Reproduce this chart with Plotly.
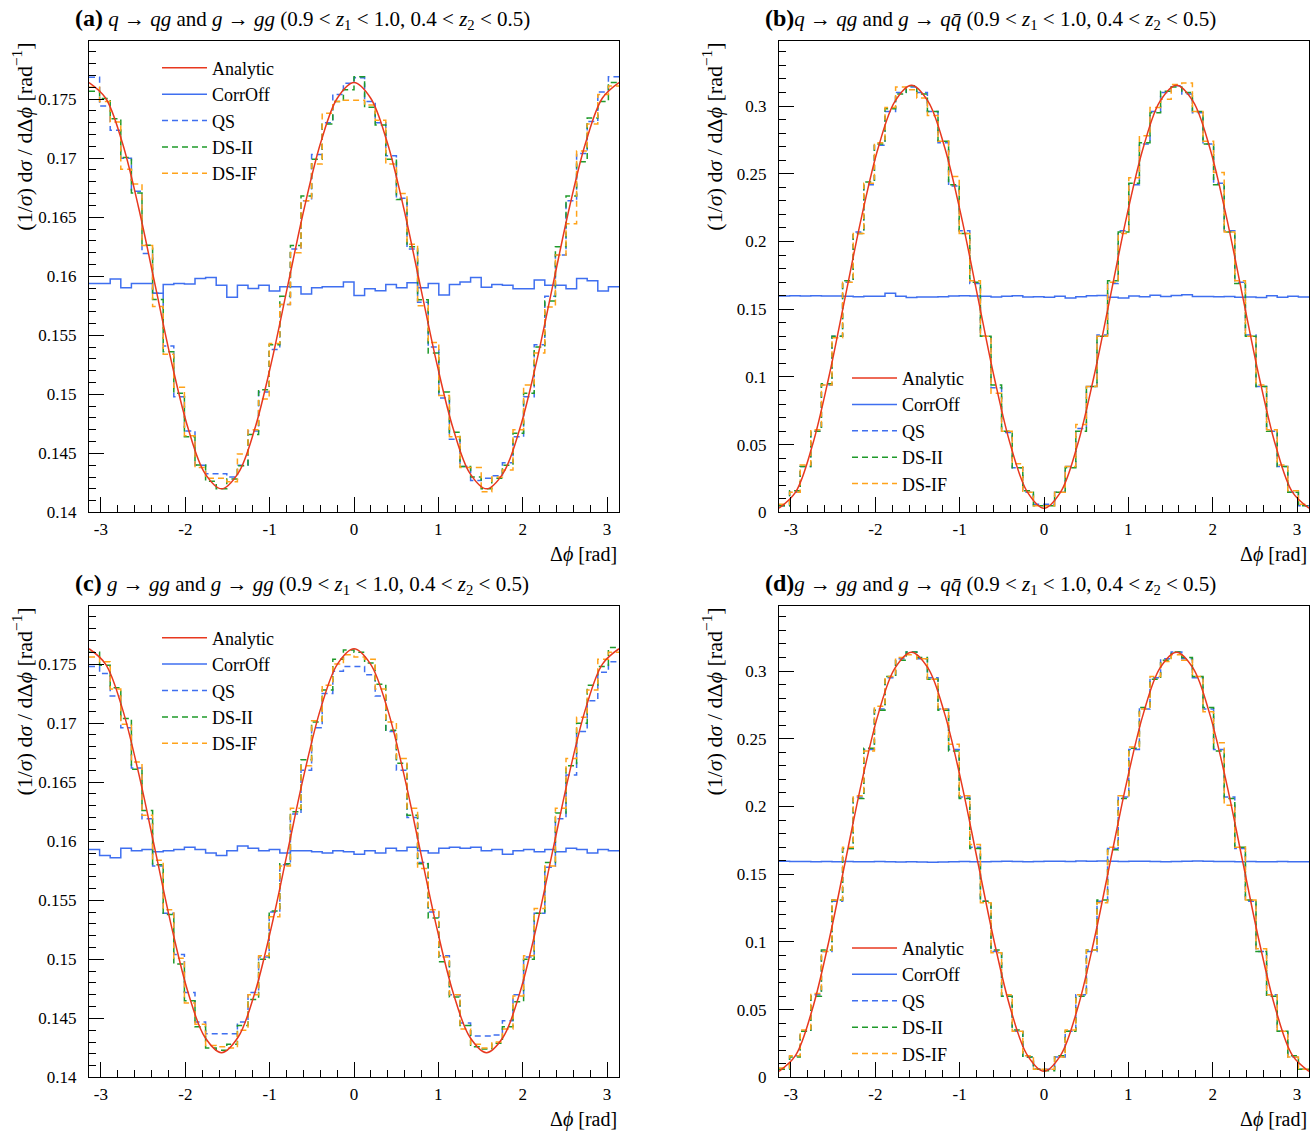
import numpy as np
import plotly.graph_objects as go

W, H = 1314, 1136
FONT = "Liberation Serif"

# ---------------- data ----------------
N_BINS = 50
phi_edges = np.linspace(-np.pi, np.pi, N_BINS + 1)      # histogram bin edges
phi_curve = np.linspace(-np.pi, np.pi, 33)              # analytic sample positions (k*pi/16)

# Panel (a): q -> qg and g -> gg
analytic_a = [0.17640, 0.17509, 0.17136, 0.16578, 0.15920, 0.15262, 0.14704, 0.14331, 0.14200,
              0.14331, 0.14704, 0.15262, 0.15920, 0.16578, 0.17136, 0.17509, 0.17640,
              0.17509, 0.17136, 0.16578, 0.15920, 0.15262, 0.14704, 0.14331, 0.14200,
              0.14331, 0.14704, 0.15262, 0.15920, 0.16578, 0.17136, 0.17509, 0.17640]
corroff_a = [0.15939, 0.15939, 0.15976, 0.15903, 0.15939, 0.15939, 0.15855, 0.15931, 0.15939, 0.15934,
             0.15981, 0.15990, 0.15923, 0.15822, 0.15923, 0.15897, 0.15923, 0.15875, 0.15911, 0.15911,
             0.15850, 0.15903, 0.15911, 0.15911, 0.15951, 0.15838, 0.15895, 0.15878, 0.15931, 0.15903,
             0.15945, 0.15903, 0.15939, 0.15841, 0.15931, 0.15951, 0.15990, 0.15906, 0.15931, 0.15923,
             0.15895, 0.15895, 0.15968, 0.15923, 0.15923, 0.15895, 0.15981, 0.15962, 0.15875, 0.15911]
qs_a = [0.17685, 0.17441, 0.17236, 0.17000, 0.16720, 0.16192, 0.15855, 0.15410, 0.14980, 0.14690,
        0.14400, 0.14328, 0.14328, 0.14300, 0.14400, 0.14690, 0.15020, 0.15380, 0.15760, 0.16230,
        0.16640, 0.17030, 0.17300, 0.17540, 0.17635, 0.17680, 0.17480, 0.17300, 0.17020, 0.16660,
        0.16230, 0.15780, 0.15400, 0.14970, 0.14620, 0.14390, 0.14270, 0.14290, 0.14310, 0.14420,
        0.14640, 0.14980, 0.15420, 0.15830, 0.16180, 0.16640, 0.17040, 0.17310, 0.17560, 0.17690]
dsii_a = [0.17567, 0.17505, 0.17334, 0.17006, 0.16705, 0.16262, 0.15804, 0.15360, 0.15010, 0.14640,
          0.14402, 0.14264, 0.14200, 0.14284, 0.14396, 0.14660, 0.15040, 0.15420, 0.15830, 0.16260,
          0.16680, 0.16990, 0.17290, 0.17480, 0.17580, 0.17690, 0.17430, 0.17280, 0.16990, 0.16650,
          0.16250, 0.15800, 0.15350, 0.15020, 0.14680, 0.14390, 0.14300, 0.14200, 0.14290, 0.14400,
          0.14670, 0.15010, 0.15400, 0.15790, 0.16250, 0.16680, 0.16970, 0.17340, 0.17480, 0.17640]
dsif_a = [0.17600, 0.17480, 0.17306, 0.16907, 0.16781, 0.16260, 0.15743, 0.15340, 0.15060, 0.14650,
          0.14380, 0.14289, 0.14289, 0.14260, 0.14494, 0.14700, 0.14960, 0.15430, 0.15760, 0.16200,
          0.16640, 0.16950, 0.17380, 0.17480, 0.17490, 0.17490, 0.17450, 0.17320, 0.16950, 0.16700,
          0.16270, 0.15750, 0.15440, 0.14990, 0.14640, 0.14380, 0.14380, 0.14175, 0.14300, 0.14360,
          0.14700, 0.15080, 0.15350, 0.15740, 0.16180, 0.16444, 0.17060, 0.17290, 0.17540, 0.17610]

# Panel (b): q -> qg and g -> q qbar
analytic_b = [0.00310, 0.01498, 0.04882, 0.09946, 0.15920, 0.21894, 0.26958, 0.30342, 0.31530,
              0.30342, 0.26958, 0.21894, 0.15920, 0.09946, 0.04882, 0.01498, 0.00310,
              0.01498, 0.04882, 0.09946, 0.15920, 0.21894, 0.26958, 0.30342, 0.31530,
              0.30342, 0.26958, 0.21894, 0.15920, 0.09946, 0.04882, 0.01498, 0.00310]
corroff_b = [0.1598, 0.1600, 0.1598, 0.1600, 0.1598, 0.1598, 0.1596, 0.1592, 0.1596, 0.1596,
             0.1618, 0.1596, 0.1586, 0.1590, 0.1590, 0.1592, 0.1598, 0.1600, 0.1598, 0.1596,
             0.1590, 0.1596, 0.1600, 0.1590, 0.1592, 0.1588, 0.1596, 0.1584, 0.1592, 0.1600,
             0.1602, 0.1588, 0.1584, 0.1598, 0.1592, 0.1604, 0.1594, 0.1602, 0.1608, 0.1594,
             0.1594, 0.1592, 0.1594, 0.1588, 0.1590, 0.1586, 0.1600, 0.1588, 0.1596, 0.1590]
qs_b = [0.0050, 0.0150, 0.0340, 0.0600, 0.0940, 0.1300, 0.1700, 0.2070, 0.2420, 0.2710,
        0.2960, 0.3100, 0.3140, 0.3100, 0.2960, 0.2730, 0.2410, 0.2080, 0.1690, 0.1300,
        0.0920, 0.0590, 0.0330, 0.0150, 0.0060, 0.0060, 0.0150, 0.0340, 0.0620, 0.0930,
        0.1310, 0.1690, 0.2080, 0.2420, 0.2720, 0.2960, 0.3100, 0.3150, 0.3090, 0.2950,
        0.2720, 0.2430, 0.2080, 0.1700, 0.1310, 0.0930, 0.0600, 0.0340, 0.0150, 0.0050]
dsii_b = [0.0050, 0.0160, 0.0340, 0.0600, 0.0950, 0.1300, 0.1710, 0.2060, 0.2440, 0.2720,
          0.2980, 0.3090, 0.3150, 0.3090, 0.2960, 0.2740, 0.2420, 0.2060, 0.1700, 0.1300,
          0.0940, 0.0600, 0.0330, 0.0160, 0.0050, 0.0050, 0.0150, 0.0330, 0.0600, 0.0930,
          0.1300, 0.1710, 0.2070, 0.2430, 0.2730, 0.2950, 0.3110, 0.3140, 0.3100, 0.2960,
          0.2720, 0.2420, 0.2070, 0.1690, 0.1300, 0.0930, 0.0600, 0.0340, 0.0150, 0.0050]
dsif_b = [0.0060, 0.0150, 0.0350, 0.0610, 0.0940, 0.1290, 0.1700, 0.2060, 0.2430, 0.2730,
          0.2990, 0.3140, 0.3120, 0.3060, 0.2930, 0.2740, 0.2480, 0.2060, 0.1710, 0.1300,
          0.0880, 0.0600, 0.0360, 0.0150, 0.0050, 0.0050, 0.0150, 0.0340, 0.0650, 0.0930,
          0.1300, 0.1700, 0.2060, 0.2470, 0.2780, 0.2990, 0.3050, 0.3160, 0.3170, 0.2960,
          0.2740, 0.2510, 0.2070, 0.1710, 0.1300, 0.0940, 0.0610, 0.0350, 0.0160, 0.0060]

# Panel (c): g -> gg and g -> gg
analytic_c = [0.17630, 0.17500, 0.17129, 0.16574, 0.15920, 0.15266, 0.14711, 0.14340, 0.14210,
              0.14340, 0.14711, 0.15266, 0.15920, 0.16574, 0.17129, 0.17500, 0.17630,
              0.17500, 0.17129, 0.16574, 0.15920, 0.15266, 0.14711, 0.14340, 0.14210,
              0.14340, 0.14711, 0.15266, 0.15920, 0.16574, 0.17129, 0.17500, 0.17630]
corroff_c = [0.15930, 0.15880, 0.15860, 0.15940, 0.15920, 0.15930, 0.15910, 0.15920, 0.15930, 0.15950,
             0.15930, 0.15900, 0.15880, 0.15920, 0.15960, 0.15940, 0.15920, 0.15930, 0.15900, 0.15920,
             0.15920, 0.15910, 0.15900, 0.15920, 0.15910, 0.15890, 0.15920, 0.15900, 0.15940, 0.15920,
             0.15950, 0.15920, 0.15900, 0.15940, 0.15950, 0.15940, 0.15950, 0.15920, 0.15930, 0.15890,
             0.15920, 0.15930, 0.15910, 0.15930, 0.15910, 0.15940, 0.15930, 0.15900, 0.15930, 0.15920]
qs_c = [0.17480, 0.17420, 0.17230, 0.16960, 0.16620, 0.16190, 0.15790, 0.15390, 0.15040, 0.14720,
        0.14470, 0.14370, 0.14370, 0.14370, 0.14470, 0.14720, 0.15020, 0.15400, 0.15800, 0.16230,
        0.16600, 0.16960, 0.17250, 0.17440, 0.17480, 0.17480, 0.17410, 0.17230, 0.16930, 0.16600,
        0.16200, 0.15820, 0.15400, 0.15030, 0.14700, 0.14460, 0.14350, 0.14350, 0.14360, 0.14480,
        0.14700, 0.15020, 0.15390, 0.15780, 0.16190, 0.16560, 0.16930, 0.17190, 0.17430, 0.17520]
dsii_c = [0.17600, 0.17490, 0.17300, 0.17040, 0.16610, 0.16260, 0.15800, 0.15380, 0.14960, 0.14650,
          0.14430, 0.14250, 0.14230, 0.14280, 0.14440, 0.14660, 0.15000, 0.15410, 0.15810, 0.16250,
          0.16690, 0.17010, 0.17280, 0.17540, 0.17620, 0.17600, 0.17510, 0.17330, 0.16940, 0.16660,
          0.16220, 0.15810, 0.15350, 0.14980, 0.14680, 0.14440, 0.14260, 0.14240, 0.14290, 0.14430,
          0.14640, 0.15000, 0.15390, 0.15820, 0.16240, 0.16640, 0.17000, 0.17320, 0.17480, 0.17640]
dsif_c = [0.17560, 0.17520, 0.17290, 0.16990, 0.16670, 0.16220, 0.15840, 0.15420, 0.15010, 0.14630,
          0.14450, 0.14270, 0.14260, 0.14250, 0.14400, 0.14700, 0.15030, 0.15360, 0.15790, 0.16280,
          0.16640, 0.17020, 0.17320, 0.17500, 0.17580, 0.17560, 0.17540, 0.17290, 0.17010, 0.16700,
          0.16280, 0.15770, 0.15420, 0.15020, 0.14700, 0.14410, 0.14280, 0.14250, 0.14300, 0.14410,
          0.14690, 0.15030, 0.15430, 0.15790, 0.16280, 0.16700, 0.17050, 0.17280, 0.17540, 0.17600]

# Panel (d): g -> gg and g -> q qbar
analytic_d = [0.00450, 0.01627, 0.04981, 0.10000, 0.15920, 0.21840, 0.26859, 0.30213, 0.31390,
              0.30213, 0.26859, 0.21840, 0.15920, 0.10000, 0.04981, 0.01627, 0.00450,
              0.01627, 0.04981, 0.10000, 0.15920, 0.21840, 0.26859, 0.30213, 0.31390,
              0.30213, 0.26859, 0.21840, 0.15920, 0.10000, 0.04981, 0.01627, 0.00450]
corroff_d = [0.1596, 0.1594, 0.1594, 0.1592, 0.1594, 0.1592, 0.1594, 0.1592, 0.1592, 0.1594,
             0.1592, 0.1590, 0.1592, 0.1590, 0.1588, 0.1590, 0.1592, 0.1594, 0.1592, 0.1592,
             0.1594, 0.1596, 0.1594, 0.1592, 0.1594, 0.1596, 0.1596, 0.1594, 0.1598, 0.1596,
             0.1598, 0.1596, 0.1594, 0.1596, 0.1596, 0.1594, 0.1592, 0.1594, 0.1596, 0.1598,
             0.1596, 0.1594, 0.1594, 0.1592, 0.1594, 0.1592, 0.1592, 0.1594, 0.1592, 0.1592]
qs_d = [0.0060, 0.0160, 0.0340, 0.0610, 0.0930, 0.1300, 0.1690, 0.2070, 0.2420, 0.2720,
        0.2950, 0.3090, 0.3140, 0.3090, 0.2950, 0.2720, 0.2420, 0.2070, 0.1700, 0.1300,
        0.0930, 0.0600, 0.0340, 0.0150, 0.0060, 0.0060, 0.0150, 0.0340, 0.0610, 0.0930,
        0.1300, 0.1690, 0.2070, 0.2420, 0.2720, 0.2950, 0.3090, 0.3140, 0.3090, 0.2950,
        0.2720, 0.2420, 0.2070, 0.1690, 0.1300, 0.0930, 0.0610, 0.0340, 0.0150, 0.0060]
dsii_d = [0.0060, 0.0150, 0.0340, 0.0600, 0.0940, 0.1310, 0.1690, 0.2060, 0.2430, 0.2710,
          0.2960, 0.3080, 0.3140, 0.3100, 0.2940, 0.2710, 0.2410, 0.2060, 0.1690, 0.1300,
          0.0940, 0.0600, 0.0350, 0.0150, 0.0060, 0.0050, 0.0160, 0.0340, 0.0600, 0.0940,
          0.1310, 0.1680, 0.2060, 0.2430, 0.2730, 0.2940, 0.3080, 0.3140, 0.3100, 0.2960,
          0.2730, 0.2410, 0.2060, 0.1700, 0.1310, 0.0930, 0.0600, 0.0340, 0.0160, 0.0060]
dsif_d = [0.0070, 0.0160, 0.0350, 0.0620, 0.0930, 0.1310, 0.1700, 0.2080, 0.2410, 0.2740,
          0.2960, 0.3100, 0.3120, 0.3090, 0.2940, 0.2720, 0.2460, 0.2080, 0.1720, 0.1290,
          0.0920, 0.0610, 0.0340, 0.0160, 0.0060, 0.0060, 0.0150, 0.0350, 0.0610, 0.0940,
          0.1290, 0.1700, 0.2080, 0.2440, 0.2720, 0.2960, 0.3070, 0.3120, 0.3080, 0.2960,
          0.2700, 0.2470, 0.2010, 0.1700, 0.1310, 0.0950, 0.0610, 0.0340, 0.0150, 0.0060]

x_tickvals = [-3, -2, -1, 0, 1, 2, 3]
x_ticktext = ["-3", "-2", "-1", "0", "1", "2", "3"]

_cond = " (0.9 &lt; <i>z</i><sub>1</sub> &lt; 1.0, 0.4 &lt; <i>z</i><sub>2</sub> &lt; 0.5)"
titles = [
    "<span style='font-size:24px'><b>(a)</b></span> <i>q</i> → <i>qg</i> and <i>g</i> → <i>gg</i>" + _cond,
    "<span style='font-size:24px'><b>(b)</b></span><i>q</i> → <i>qg</i> and <i>g</i> → <i>q</i><i>q̄</i>" + _cond,
    "<span style='font-size:24px'><b>(c)</b></span> <i>g</i> → <i>gg</i> and <i>g</i> → <i>gg</i>" + _cond,
    "<span style='font-size:24px'><b>(d)</b></span><i>g</i> → <i>gg</i> and <i>g</i> → <i>q</i><i>q̄</i>" + _cond,
]
series_names = ["Analytic", "CorrOff", "QS", "DS-II", "DS-IF"]

# ---------------- styling / layout ----------------
RED, BLUE, GREEN, ORANGE = "#e8381f", "#3f6ff0", "#1f9a2a", "#ffa31a"
DASH = "6px,4px"

panels = [
    dict(analytic=analytic_a, hists=[corroff_a, qs_a, dsii_a, dsif_a], left=89, right=619, top=41, bottom=517,
         yrange=[0.14, 0.17995], dtick=0.005, minor=0.001, legend=(157, 50)),
    dict(analytic=analytic_b, hists=[corroff_b, qs_b, dsii_b, dsif_b], left=779, right=1309, top=41, bottom=517,
         yrange=[0.0, 0.3483], dtick=0.05, minor=0.01, legend=(847, 363)),
    dict(analytic=analytic_c, hists=[corroff_c, qs_c, dsii_c, dsif_c], left=89, right=619, top=611, bottom=1087,
         yrange=[0.14, 0.17995], dtick=0.005, minor=0.001, legend=(157, 625)),
    dict(analytic=analytic_d, hists=[corroff_d, qs_d, dsii_d, dsif_d], left=779, right=1309, top=611, bottom=1087,
         yrange=[0.0, 0.3483], dtick=0.05, minor=0.01, legend=(847, 938)),
]


def pxx(x):
    return x / W


def pyy(y):
    return 1 - y / H


fig = go.Figure()
layout = dict(
    width=W, height=H, margin=dict(l=0, r=0, t=0, b=0),
    paper_bgcolor="white", plot_bgcolor="white",
    font=dict(family=FONT, color="black", size=17),
    annotations=[], showlegend=True,
)

hist_styles = [
    dict(color=BLUE, dash="solid"),
    dict(color=BLUE, dash=DASH),
    dict(color=GREEN, dash=DASH),
    dict(color=ORANGE, dash=DASH),
]

for i, p in enumerate(panels):
    n = "" if i == 0 else str(i + 1)
    xa, ya = "x" + n, "y" + n
    leg = "legend" + n
    for j, (vals, st) in enumerate(zip(p["hists"], hist_styles)):
        fig.add_trace(go.Scatter(
            x=phi_edges, y=list(vals) + [vals[-1]], mode="lines",
            line=dict(shape="hv", color=st["color"], dash=st["dash"], width=1.5),
            name=series_names[j + 1], legendrank=j + 2, xaxis=xa, yaxis=ya, legend=leg,
            hoverinfo="skip"))
    fig.add_trace(go.Scatter(
        x=phi_curve, y=p["analytic"], mode="lines",
        line=dict(shape="spline", smoothing=1.0, color=RED, width=1.5),
        name=series_names[0], legendrank=1, xaxis=xa, yaxis=ya, legend=leg, hoverinfo="skip"))

    common = dict(showline=True, mirror=True, linecolor="black", linewidth=1, showgrid=False,
                  zeroline=False, ticks="inside", tickcolor="black", tickwidth=1, ticklen=15,
                  tickfont=dict(family=FONT, size=17, color="black"))
    layout["xaxis" + n] = dict(
        common, domain=[pxx(p["left"]), pxx(p["right"])], anchor=ya, range=[-np.pi, np.pi],
        tickvals=x_tickvals, ticktext=x_ticktext, ticklabelstandoff=1,
        minor=dict(dtick=0.2, tick0=0, ticks="inside", ticklen=7, tickcolor="black", tickwidth=1))
    layout["yaxis" + n] = dict(
        common, domain=[pyy(p["bottom"]), pyy(p["top"])], anchor=xa, range=p["yrange"],
        dtick=p["dtick"], tick0=0, ticklabelstandoff=8,
        minor=dict(dtick=p["minor"], tick0=0, ticks="inside", ticklen=7, tickcolor="black", tickwidth=1))
    lx, ly = p["legend"]
    layout[leg] = dict(x=pxx(lx), y=pyy(ly), xanchor="left", yanchor="top", bgcolor="rgba(0,0,0,0)",
                       borderwidth=0, font=dict(family=FONT, size=18, color="black"), itemwidth=45,
                       traceorder="normal")
    # panel title
    layout["annotations"].append(dict(
        text=titles[i], x=pxx(p["left"] - 16), y=pyy(p["top"] - 22), xref="paper", yref="paper",
        xanchor="left", yanchor="middle", showarrow=False, font=dict(family=FONT, size=21)))
    # y axis title
    layout["annotations"].append(dict(
        text="(1/<i>σ</i>) d<i>σ</i> / dΔ<i>ϕ</i> [rad<sup>−1</sup>]",
        x=pxx(p["left"] - 67), y=pyy(p["top"]), xref="paper", yref="paper",
        xanchor="center", yanchor="top", textangle=-90, showarrow=False,
        font=dict(family=FONT, size=22)))
    # x axis title
    layout["annotations"].append(dict(
        text="Δ<i>ϕ</i> [rad]", x=pxx(p["right"]), y=pyy(p["bottom"] + 42), xref="paper", yref="paper",
        xanchor="right", yanchor="middle", showarrow=False, font=dict(family=FONT, size=20)))

fig.update_layout(**layout)
fig.write_html("out.html", config={"displayModeBar": False},
               post_script="document.body.style.margin='0px';document.body.style.overflow='hidden';")
